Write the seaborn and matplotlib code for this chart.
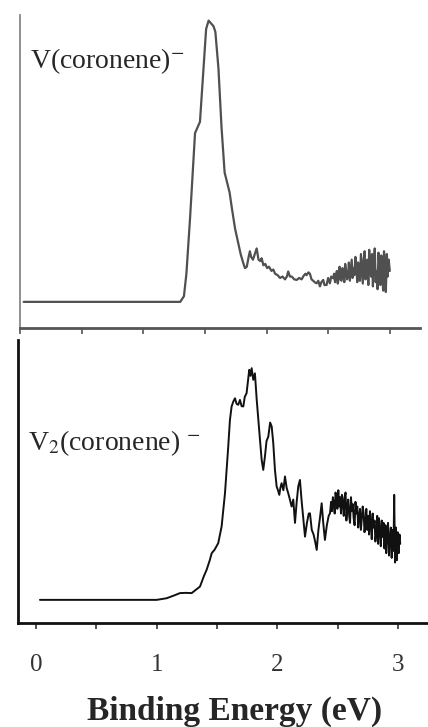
import numpy as np
import pandas as pd
import seaborn as sns
import matplotlib.pyplot as plt
from matplotlib.ticker import MultipleLocator, NullFormatter

# V(coronene)- spectrum
energy_top = [0.03, 1.30, 1.33, 1.35, 1.38, 1.40, 1.42, 1.46, 1.49, 1.51, 1.53, 1.55, 1.57, 1.585,
              1.61, 1.635, 1.66, 1.70, 1.72, 1.745, 1.77, 1.79, 1.81, 1.825, 1.84, 1.855, 1.865,
              1.875, 1.89, 1.905, 1.92, 1.935, 1.95, 1.96, 1.975, 1.99, 2.005, 2.02, 2.04, 2.055,
              2.07, 2.09, 2.11, 2.13, 2.15, 2.165, 2.176, 2.19, 2.205, 2.225, 2.245, 2.265, 2.285,
              2.30, 2.315, 2.325, 2.34, 2.352, 2.365, 2.379, 2.39, 2.406, 2.42, 2.433, 2.445, 2.46,
              2.47, 2.487, 2.50, 2.514, 2.525, 2.541,
              2.548, 2.556, 2.563, 2.571, 2.578, 2.586, 2.593, 2.601, 2.608, 2.616, 2.623, 2.631,
              2.638, 2.646, 2.653, 2.661, 2.668, 2.676, 2.683, 2.691, 2.698, 2.706, 2.713, 2.721,
              2.728, 2.736, 2.743, 2.751, 2.758, 2.766, 2.773, 2.781, 2.788, 2.796, 2.803, 2.811,
              2.818, 2.826, 2.833, 2.841, 2.848, 2.856, 2.863, 2.871, 2.878, 2.886, 2.893, 2.901,
              2.908, 2.916, 2.923, 2.931, 2.938, 2.946, 2.953, 2.961, 2.968, 2.976, 2.983, 2.991,
              3.0]
signal_top = [0.0, 0.0, 0.02, 0.10, 0.30, 0.45, 0.60, 0.64, 0.84, 0.97, 1.00, 0.99, 0.98, 0.96,
              0.83, 0.62, 0.46, 0.39, 0.33, 0.26, 0.21, 0.17, 0.14, 0.12, 0.125, 0.16, 0.18,
              0.16, 0.15, 0.17, 0.19, 0.15, 0.145, 0.155, 0.13, 0.135, 0.12, 0.125, 0.11, 0.115,
              0.10, 0.095, 0.085, 0.09, 0.08, 0.09, 0.108, 0.09, 0.09, 0.08, 0.078, 0.085, 0.08,
              0.092, 0.10, 0.095, 0.105, 0.10, 0.08, 0.075, 0.07, 0.066, 0.075, 0.055, 0.07, 0.078,
              0.06, 0.06, 0.085, 0.066, 0.09, 0.084,
              0.10, 0.07, 0.095, 0.11, 0.065, 0.085, 0.125, 0.08, 0.075, 0.12, 0.10, 0.07,
              0.135, 0.11, 0.08, 0.09, 0.14, 0.075, 0.11, 0.15, 0.085, 0.12, 0.095, 0.16,
              0.13, 0.07, 0.14, 0.10, 0.075, 0.17, 0.12, 0.065, 0.15, 0.18, 0.08, 0.11,
              0.15, 0.06, 0.185, 0.12, 0.09, 0.17, 0.055, 0.14, 0.19, 0.07, 0.11, 0.045,
              0.175, 0.13, 0.06, 0.165, 0.10, 0.04, 0.18, 0.12, 0.035, 0.17, 0.09, 0.15,
              0.11]

# V2(coronene)- spectrum
energy_bot = [0.033, 1.0, 1.083, 1.15, 1.193, 1.24, 1.29, 1.33, 1.359, 1.39, 1.414, 1.44, 1.456,
              1.48, 1.51, 1.538, 1.566, 1.593, 1.607, 1.621, 1.635, 1.649, 1.662, 1.676, 1.69,
              1.704, 1.718, 1.73, 1.745, 1.755, 1.767, 1.777, 1.787, 1.8, 1.814, 1.829, 1.842,
              1.856, 1.87, 1.883, 1.897, 1.91, 1.925, 1.94, 1.953, 1.966, 1.98, 1.994, 2.005,
              2.016, 2.025, 2.035, 2.05, 2.063, 2.077, 2.09, 2.104, 2.118, 2.132, 2.146, 2.16,
              2.173, 2.187, 2.2, 2.215, 2.229, 2.245, 2.26, 2.27, 2.285, 2.3, 2.313, 2.326, 2.34,
              2.355, 2.367, 2.38, 2.394, 2.41, 2.425, 2.436,
              2.445, 2.452, 2.46, 2.467, 2.475, 2.482, 2.49, 2.497, 2.505, 2.512, 2.52, 2.527,
              2.535, 2.542, 2.55, 2.557, 2.565, 2.572, 2.58, 2.587, 2.595, 2.602, 2.61, 2.617,
              2.625, 2.632, 2.64, 2.647, 2.655, 2.662, 2.67, 2.677, 2.685, 2.692, 2.70, 2.707,
              2.715, 2.722, 2.73, 2.737, 2.745, 2.752, 2.76, 2.767, 2.775, 2.782, 2.79, 2.797,
              2.805, 2.812, 2.82, 2.827, 2.835, 2.842, 2.85, 2.857, 2.865, 2.872, 2.88, 2.887,
              2.895, 2.902, 2.91, 2.917, 2.925, 2.932, 2.94, 2.947, 2.955, 2.962, 2.968, 2.975,
              2.982, 2.99, 2.997, 3.005, 3.012, 3.018]
signal_bot = [0.0, 0.0, 0.007, 0.02, 0.029, 0.03, 0.029, 0.045, 0.057, 0.10, 0.129, 0.17, 0.20,
              0.215, 0.243, 0.314, 0.457, 0.657, 0.771, 0.829, 0.85, 0.864, 0.84, 0.836, 0.857,
              0.83, 0.829, 0.87, 0.886, 0.93, 0.986, 0.96, 0.993, 0.943, 0.971, 0.857, 0.772,
              0.686, 0.6, 0.557, 0.614, 0.68, 0.70, 0.76, 0.743, 0.672, 0.557, 0.486, 0.47,
              0.45, 0.48, 0.5, 0.47, 0.529, 0.48, 0.457, 0.43, 0.40, 0.43, 0.33, 0.42,
              0.486, 0.514, 0.43, 0.35, 0.271, 0.33, 0.37, 0.371, 0.30, 0.28, 0.25, 0.214, 0.30,
              0.36, 0.414, 0.33, 0.257, 0.32, 0.36, 0.371,
              0.42, 0.38, 0.44, 0.41, 0.37, 0.46, 0.43, 0.39, 0.47, 0.40, 0.44, 0.37,
              0.45, 0.42, 0.36, 0.44, 0.46, 0.34, 0.40, 0.43, 0.36, 0.33, 0.44, 0.38,
              0.41, 0.35, 0.32, 0.42, 0.37, 0.40, 0.31, 0.36, 0.39, 0.30, 0.35, 0.40,
              0.37, 0.29, 0.33, 0.39, 0.30, 0.36, 0.28, 0.38, 0.33, 0.26, 0.37, 0.31,
              0.34, 0.25, 0.29, 0.36, 0.24, 0.35, 0.30, 0.23, 0.34, 0.27, 0.33, 0.22,
              0.32, 0.20, 0.29, 0.33, 0.19, 0.26, 0.31, 0.18, 0.30, 0.21, 0.45, 0.16,
              0.31, 0.17, 0.29, 0.20, 0.28, 0.24]

tick_labels = ['0', '1', '2', '3']

sns.set_style('white')
plt.rcParams['font.family'] = ['Liberation Serif', 'DejaVu Serif']
plt.rcParams['mathtext.fontset'] = 'stix'

fig = plt.figure(figsize=(4.28, 7.27), dpi=100)
ax1 = fig.add_axes([0.0467, 0.5488, 0.9343, 0.4306])
ax2 = fig.add_axes([0.042, 0.1431, 0.958, 0.3893])

df_top = pd.DataFrame({'energy': energy_top, 'signal': signal_top})
df_bot = pd.DataFrame({'energy': energy_bot, 'signal': signal_bot})

sns.lineplot(data=df_top, x='energy', y='signal', ax=ax1, color='#505050',
             linewidth=1.6, estimator=None, sort=False)
sns.lineplot(data=df_bot, x='energy', y='signal', ax=ax2, color='#111111',
             linewidth=1.4, estimator=None, sort=False)

# top panel
ax1.set_xlim(0, 3.244)
ax1.set_ylim(-0.093, 1.02)
for s in ['top', 'right']:
    ax1.spines[s].set_visible(False)
ax1.spines['left'].set_color('#888888')
ax1.spines['left'].set_linewidth(1.3)
ax1.spines['bottom'].set_color('#555555')
ax1.spines['bottom'].set_linewidth(2)
ax1.xaxis.set_major_locator(MultipleLocator(0.5))
ax1.xaxis.set_major_formatter(NullFormatter())
ax1.tick_params(axis='x', bottom=True, direction='out', length=4, width=1.2, color='#555555')
ax1.set_yticks([])
ax1.set_xlabel('')
ax1.set_ylabel('')

# bottom panel
ax2.set_xlim(-0.149, 3.248)
ax2.set_ylim(-0.099, 1.114)
for s in ['top', 'right']:
    ax2.spines[s].set_visible(False)
for s in ['left', 'bottom']:
    ax2.spines[s].set_color('#111111')
    ax2.spines[s].set_linewidth(2)
ax2.set_xticks([0, 1, 2, 3])
ax2.set_xticklabels(tick_labels)
ax2.xaxis.set_minor_locator(MultipleLocator(0.5))
ax2.tick_params(axis='x', which='both', bottom=True, direction='out', length=4, width=1.2,
                color='#333333', labelsize=18, labelcolor='#333333', pad=18)
ax2.set_yticks([])
ax2.set_xlabel('')
ax2.set_ylabel('')

fig.text(0.070, 0.9065, r'V(coronene)$^{-}$', fontsize=20, ha='left', va='baseline')
fig.text(0.0654, 0.381, r'V$_2$(coronene) $^{-}$', fontsize=20, ha='left', va='baseline')
fig.text(0.547, 0.0096, 'Binding Energy (eV)', fontsize=24, fontweight='bold',
         ha='center', va='baseline')

plt.savefig('out.png', dpi=100)
